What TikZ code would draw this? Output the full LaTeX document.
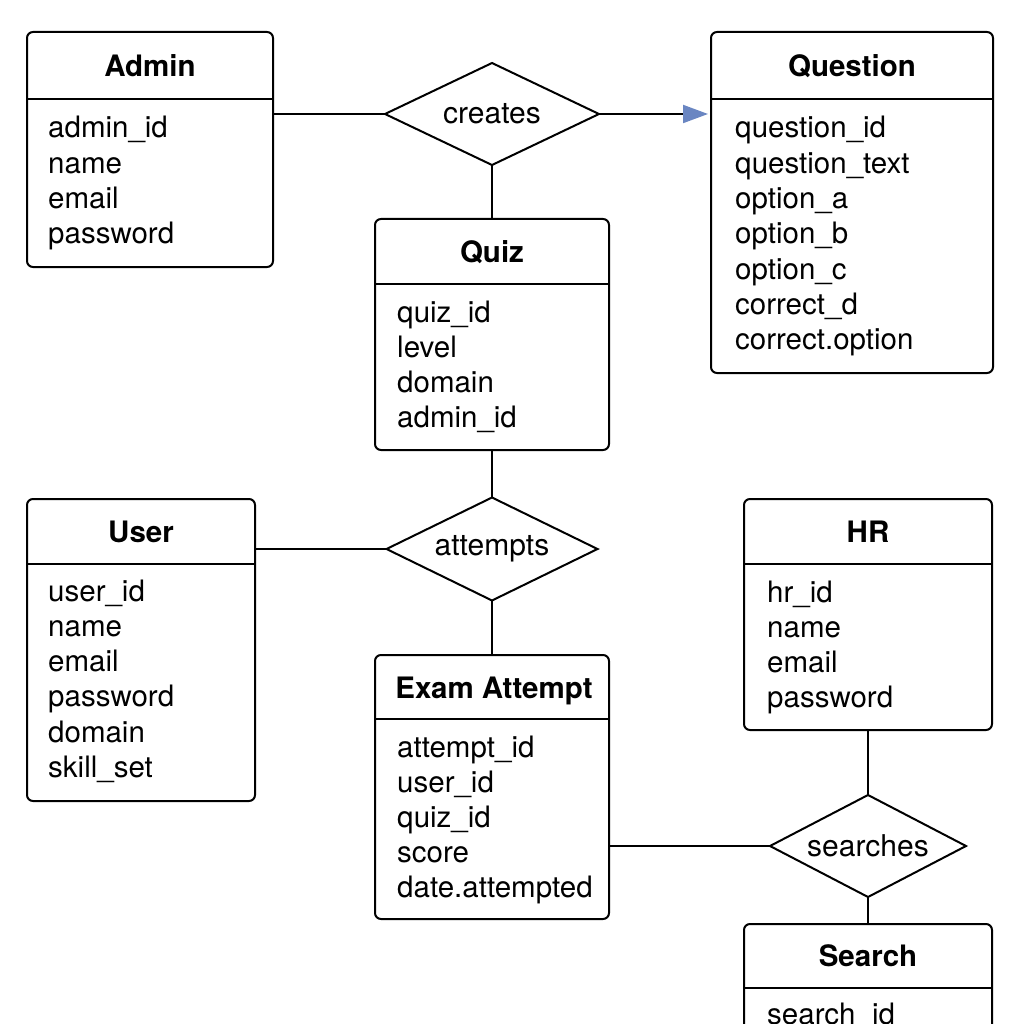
\documentclass[tikz,border=0pt]{standalone}
\usepackage{fontspec}
\setmainfont{TeX Gyre Heros}
\usetikzlibrary{shapes.geometric,arrows.meta}
\definecolor{arrowblue}{HTML}{6A86C2}
\begin{document}
\begin{tikzpicture}[x=1pt,y=-1pt,
  ent/.style={draw,line width=2pt,rounded corners=6pt,anchor=north west,inner sep=0pt,outer sep=0pt},
  rel/.style={draw,line width=2pt,shape=diamond,inner sep=0pt,outer sep=0pt,aspect=2.1,font=\fontsize{30}{34}\selectfont},
  ttl/.style={font=\fontsize{29.5}{34}\selectfont\bfseries,anchor=base,inner sep=0pt},
  attr/.style={font=\fontsize{29.5}{35}\selectfont,anchor=base west,inner sep=0pt},
  conn/.style={line width=2pt},
  div/.style={line width=2pt}]
\useasboundingbox (0,0) rectangle (1024,1024);
\clip (0,0) rectangle (1024,1024);

% Admin
\node[ent,minimum width=246pt,minimum height=235pt] (admin) at (27,32) {};
\draw[div] (27,99) -- (273,99);
\node[ttl] (admint) at (150,77) {Admin};
\foreach \t [count=\i from 0] in {admin\_id,name,email,password}
  \node[attr] (admin-\i) at (48,138+35.3*\i) {\t};

% Question
\node[ent,minimum width=282pt,minimum height=341pt] (question) at (711,32) {};
\draw[div] (711,99) -- (993,99);
\node[ttl] (questiont) at (852,77) {Question};
\foreach \t [count=\i from 0] in {question\_id,question\_text,option\_a,option\_b,option\_c,correct\_d,correct.option}
  \node[attr] (question-\i) at (735,138+35.3*\i) {\t};

% Quiz
\node[ent,minimum width=234pt,minimum height=231pt] (quiz) at (375,219) {};
\draw[div] (375,284) -- (609,284);
\node[ttl] (quizt) at (492,262) {Quiz};
\foreach \t [count=\i from 0] in {quiz\_id,level,domain,admin\_id}
  \node[attr] (quiz-\i) at (397,322+35*\i) {\t};

% User
\node[ent,minimum width=228pt,minimum height=302pt] (user) at (27,499) {};
\draw[div] (27,564) -- (255,564);
\node[ttl] (usert) at (141,542) {User};
\foreach \t [count=\i from 0] in {user\_id,name,email,password,domain,skill\_set}
  \node[attr] (user-\i) at (48,601+35.3*\i) {\t};

% HR
\node[ent,minimum width=248pt,minimum height=231pt] (hr) at (744,499) {};
\draw[div] (744,564) -- (992,564);
\node[ttl] (hrt) at (868,542) {HR};
\foreach \t [count=\i from 0] in {hr\_id,name,email,password}
  \node[attr] (hr-\i) at (767,602+35*\i) {\t};

% Exam Attempt
\node[ent,minimum width=234pt,minimum height=264pt] (exam) at (375,655) {};
\draw[div] (375,719) -- (609,719);
\node[ttl] (examt) at (494,698) {Exam Attempt};
\foreach \t [count=\i from 0] in {attempt\_id,user\_id,quiz\_id,score,date.attempted}
  \node[attr] (exam-\i) at (397,757+35*\i) {\t};

% Search (cut off at the bottom, as in the reference)
\node[ent,minimum width=248pt,minimum height=150pt] (search) at (744,924) {};
\draw[div] (744,988) -- (992,988);
\node[ttl] (searcht) at (868,966) {Search};
\node[attr] (search-0) at (767,1024) {search\_id};

% Relationships
\node[rel,minimum width=214pt,minimum height=102pt] (creates) at (492,114) {creates};
\node[rel,minimum width=211pt,minimum height=103pt] (attempts) at (492,549) {attempts};
\node[rel,minimum width=196pt,minimum height=102pt] (searches) at (868,846) {searches};

% Connectors
\draw[conn] (creates.west) -- (creates.west -| admin.east);
\draw[conn,-{Triangle[length=25pt,width=18pt,color=arrowblue]},shorten >=3pt] (creates.east) -- (creates.east -| question.west);
\draw[conn] (creates.south) -- (quiz.north);
\draw[conn] (quiz.south) -- (attempts.north);
\draw[conn] (attempts.west) -- (attempts.west -| user.east);
\draw[conn] (attempts.south) -- (exam.north);
\draw[conn] (searches.west) -- (searches.west -| exam.east);
\draw[conn] (hr.south) -- (searches.north);
\draw[conn] (searches.south) -- (search.north);
\end{tikzpicture}
\end{document}
